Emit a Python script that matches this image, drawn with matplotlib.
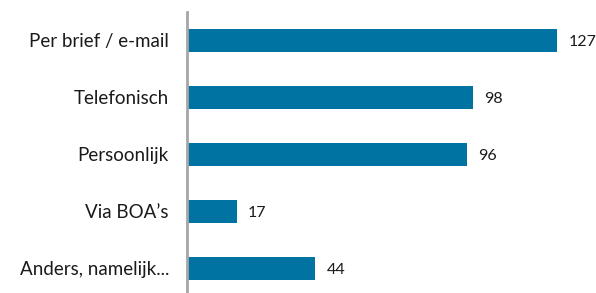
import matplotlib
matplotlib.use("Agg")
from matplotlib import pyplot as plt

# categories and counts, top to bottom
categories = ["Per brief / e-mail", "Telefonisch", "Persoonlijk", "Via BOA\u2019s", "Anders, namelijk..."]
values = [127, 98, 96, 17, 44]

plt.rcParams['font.family'] = ['Lato', 'DejaVu Sans']

fig = plt.figure(figsize=(5.96, 2.93), dpi=100)
ax = fig.add_axes([187/596, -4/293, 408/596, 285/293])

y = list(range(len(categories)))
ax.barh(y, values, height=0.4, color="#0073a2")
ax.set_ylim(len(categories) - 0.5, -0.5)
ax.set_xlim(0, 140)

for yi, v in zip(y, values):
    ax.text(v + 3.9, yi + 0.03, str(v), va="center", ha="left", fontsize=11.5, color="#1a1a1a")

ax.set_yticks(y)
ax.set_yticklabels(categories, fontsize=13.5, color="#1a1a1a")
ax.tick_params(axis="y", length=0, pad=13)
ax.set_xticks([])
for s in ["top", "right", "bottom"]:
    ax.spines[s].set_visible(False)
ax.spines["left"].set_color("#a6a6a6")
ax.spines["left"].set_linewidth(2)

fig.savefig("out.png", dpi=100)
